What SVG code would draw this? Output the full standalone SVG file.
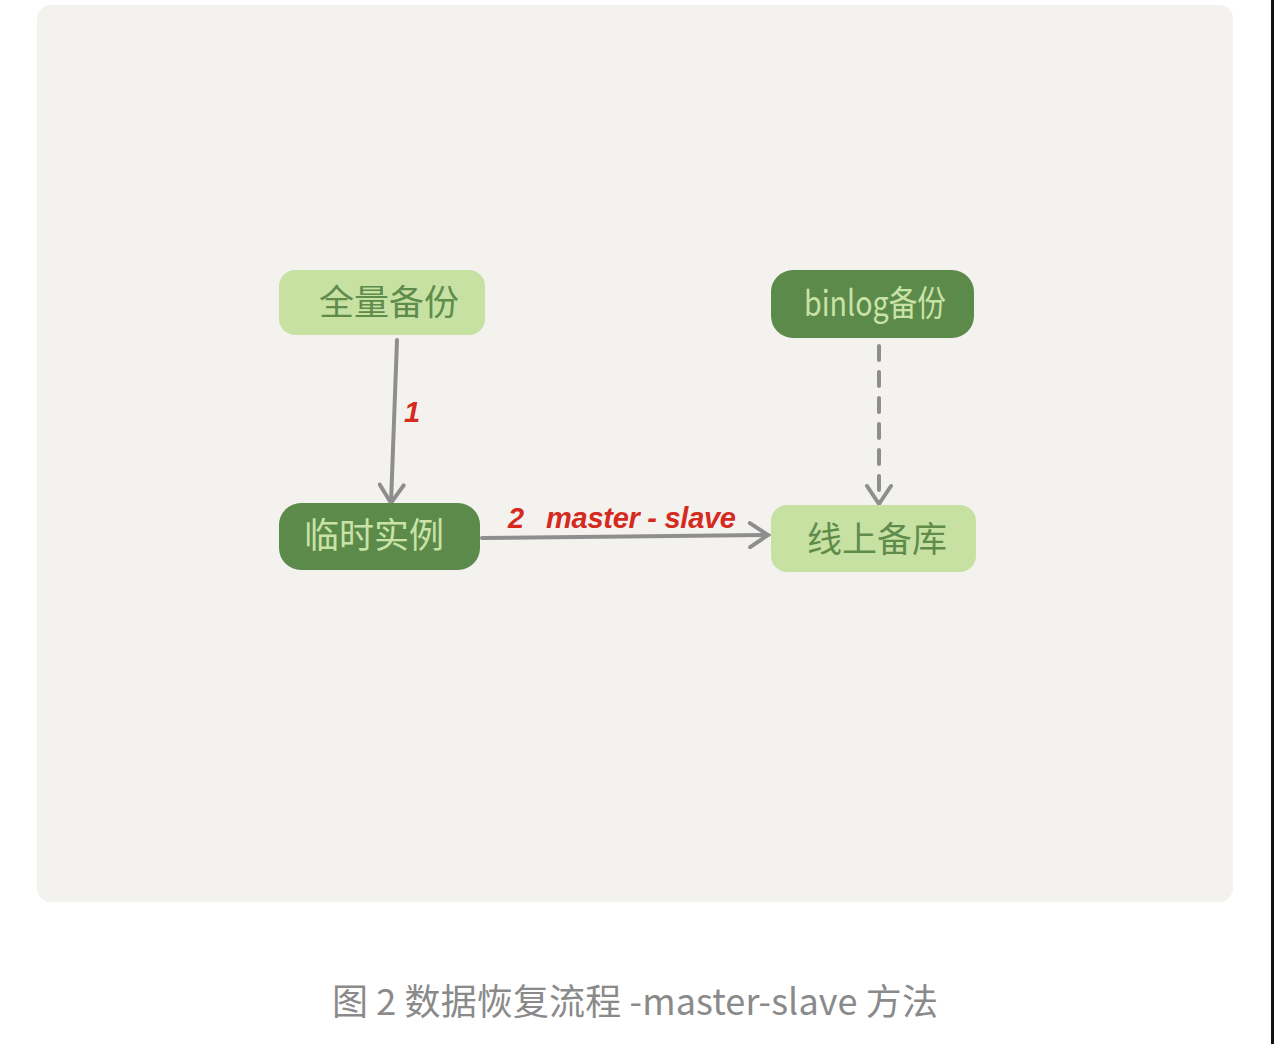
<svg xmlns="http://www.w3.org/2000/svg" width="1274" height="1044" viewBox="0 0 1274 1044">
<defs>
<style>
.light{fill:#c7e1a3}
.dark{fill:#5c8a4a}
.tl{fill:#5f8c4b;font-family:"Noto Sans CJK SC","Liberation Sans",sans-serif;font-size:35px;text-anchor:middle}
.td{fill:#c9e3a6;font-family:"Noto Sans CJK SC","Liberation Sans",sans-serif;font-size:35px;text-anchor:middle}
.conn{stroke:#8e8e8e;stroke-width:4;fill:none;stroke-linecap:round}
.lbl{fill:#d42a1f;font-family:"Liberation Sans",sans-serif;font-weight:bold;font-style:italic;font-size:29px}
</style>
<marker id="ah2" markerWidth="28" markerHeight="28" refX="24" refY="14" orient="auto" markerUnits="userSpaceOnUse" viewBox="0 0 28 28">
<path d="M6,2 L24,14 L6,26" fill="none" stroke="#8e8e8e" stroke-width="4" stroke-linecap="round"/>
</marker>
</defs>
<rect width="1274" height="1044" fill="#ffffff"/>
<rect x="37" y="5" width="1196" height="897" rx="14" fill="#f4f2ee"/>
<rect x="1271" y="0" width="3" height="1044" fill="#111111"/>

<g id="connectors">
<path class="conn" d="M397,340 L391,503" marker-end="url(#ah2)"/>
<path class="conn" d="M879,346 L879,504" stroke-dasharray="14,12" marker-end="url(#ah2)"/>
<path class="conn" d="M482,538 L768,535" marker-end="url(#ah2)"/>
<text class="lbl" x="404" y="422">1</text>
<text class="lbl" x="508" y="528">2</text>
<text class="lbl" x="546" y="528" textLength="190">master - slave</text>
</g>

<g id="node-full-backup">
<rect class="light" x="279" y="270" width="206" height="65" rx="16"/>
<text class="tl" x="389" y="315">全量备份</text>
</g>
<g id="node-binlog-backup">
<rect class="dark" x="771" y="270" width="203" height="68" rx="22"/>
<text class="td" x="875" y="316" textLength="142" lengthAdjust="spacingAndGlyphs">binlog备份</text>
</g>
<g id="node-temp-instance">
<rect class="dark" x="279" y="503" width="201" height="67" rx="22"/>
<text class="td" x="374" y="548">临时实例</text>
</g>
<g id="node-online-replica">
<rect class="light" x="771" y="505" width="205" height="67" rx="16"/>
<text class="tl" x="877" y="552">线上备库</text>
</g>

<text x="635" y="1015" fill="#8a8a8a" font-family="'Noto Sans CJK SC','Liberation Sans',sans-serif" font-size="36" text-anchor="middle" textLength="606">图 2 数据恢复流程 -master-slave 方法</text>
</svg>
